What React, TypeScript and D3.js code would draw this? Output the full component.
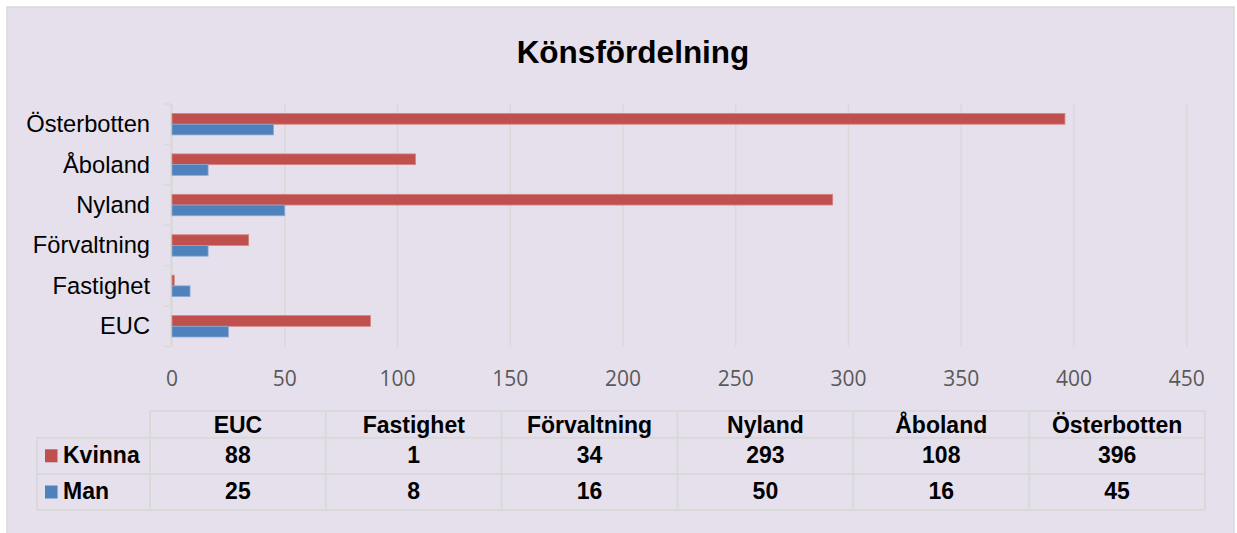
import React from 'react';
import * as d3 from 'd3';

const categories = ['EUC', 'Fastighet', 'Förvaltning', 'Nyland', 'Åboland', 'Österbotten'];
const seriesNames = ['Kvinna', 'Man'];
const kvinna = [88, 1, 34, 293, 108, 396];
const man = [25, 8, 16, 50, 16, 45];
const xTicks = [0, 50, 100, 150, 200, 250, 300, 350, 400, 450];
const colors = ['#C0504D', '#4F81BD'];
const title = 'Könsfördelning';

const W = 1237;
const H = 533;

export default function App() {
  const x = d3.scaleLinear().domain([0, 450]).range([172, 1186.7]);
  const yCats = [...categories].reverse();
  const y = d3.scaleBand<string>().domain(yCats).range([104, 346.5]).padding(0);
  const bw = y.bandwidth();
  const inner = d3
    .scaleBand<string>()
    .domain(seriesNames)
    .range([bw * 0.235, bw * 0.765])
    .padding(0);
  const values = [kvinna, man];

  const colX = d3.scaleBand<string>().domain(categories).range([150, 1205]).padding(0);
  const rowTop = [411, 437.7, 474, 510];
  const gridColor = '#D9D9D9';
  const font = 'Liberation Sans, Arial, sans-serif';

  return (
    <svg
      width={W}
      height={H}
      style={{ position: 'absolute', left: 0, top: 0, display: 'block' }}
      fontFamily={font}
    >
      <rect x={0} y={0} width={W} height={H} fill="#ffffff" />
      <rect x={7} y={7} width={1227} height={H} fill="#E5E0EC" stroke={gridColor} strokeWidth={1.5} />
      <text x={633} y={63} textAnchor="middle" fontSize={31.5} fontWeight="bold" fill="#000">
        {title}
      </text>

      {/* gridlines */}
      {xTicks.map((t) => (
        <line key={t} x1={x(t)} x2={x(t)} y1={104} y2={346.5} stroke={gridColor} strokeWidth={1.5} />
      ))}
      {/* category axis */}
      <line x1={171} x2={171} y1={104} y2={346.5} stroke={gridColor} strokeWidth={1.5} />
      {yCats.map((c) => (
        <line key={c} x1={164} x2={171} y1={y(c)!} y2={y(c)!} stroke={gridColor} strokeWidth={1.5} />
      ))}
      <line x1={164} x2={171} y1={346.5} y2={346.5} stroke={gridColor} strokeWidth={1.5} />

      {/* bars */}
      {categories.map((c, i) =>
        seriesNames.map((s, si) => (
          <rect
            key={c + s}
            x={x(0)}
            y={y(c)! + inner(s)!}
            width={x(values[si][i]) - x(0)}
            height={inner.bandwidth()}
            fill={colors[si]}
            stroke={si === 0 ? '#D38583' : '#8AA9D3'}
            strokeWidth={0.8}
          />
        ))
      )}

      {/* category labels */}
      {yCats.map((c) => (
        <text key={c} x={150} y={y(c)! + bw / 2 + 8} textAnchor="end" fontSize={23.7} fill="#000">
          {c}
        </text>
      ))}

      {/* tick labels */}
      {xTicks.map((t) => (
        <text
          key={t}
          x={x(t)}
          y={386}
          textAnchor="middle"
          fontSize={21}
          fill="#595959"
          fontFamily="Open Sans, sans-serif"
        >
          {t}
        </text>
      ))}

      {/* data table */}
      <g stroke={gridColor} strokeWidth={2} fill="none">
        <line x1={150} x2={1205} y1={rowTop[0]} y2={rowTop[0]} />
        {rowTop.slice(1).map((ry) => (
          <line key={ry} x1={37} x2={1205} y1={ry} y2={ry} />
        ))}
        <line x1={37} x2={37} y1={rowTop[1]} y2={rowTop[3]} />
        {categories.map((c) => (
          <line key={c} x1={colX(c)!} x2={colX(c)!} y1={rowTop[0]} y2={rowTop[3]} />
        ))}
        <line x1={1205} x2={1205} y1={rowTop[0]} y2={rowTop[3]} />
      </g>
      {categories.map((c) => (
        <text
          key={c}
          x={colX(c)! + colX.bandwidth() / 2}
          y={432.7}
          textAnchor="middle"
          fontSize={23}
          fontWeight="bold"
          fill="#000"
        >
          {c}
        </text>
      ))}
      {seriesNames.map((s, si) => (
        <g key={s}>
          <rect x={45} y={[449.3, 485.5][si]} width={12.5} height={13} fill={colors[si]} />
          <text x={63} y={[463.3, 499.3][si]} fontSize={23} fontWeight="bold" fill="#000">
            {s}
          </text>
          {categories.map((c, i) => (
            <text
              key={c}
              x={colX(c)! + colX.bandwidth() / 2}
              y={[463.3, 499.3][si]}
              textAnchor="middle"
              fontSize={23}
              fontWeight="bold"
              fill="#000"
            >
              {values[si][i]}
            </text>
          ))}
        </g>
      ))}
    </svg>
  );
}
